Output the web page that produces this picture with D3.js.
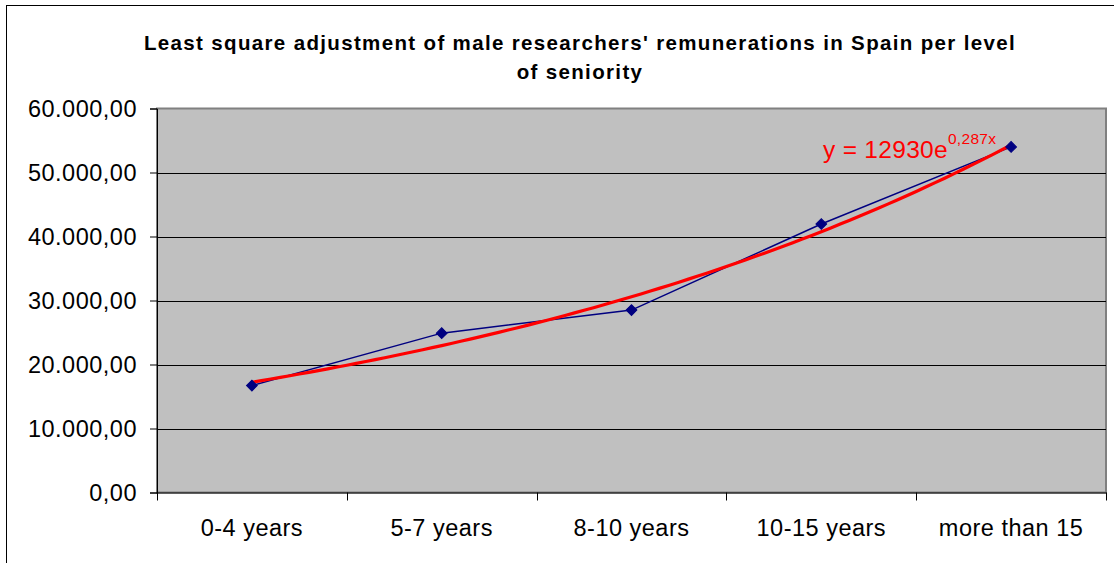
<!DOCTYPE html>
<html>
<head>
<meta charset="utf-8">
<script src="https://d3js.org/d3.v7.min.js"></script>
<style>
  html, body { margin: 0; padding: 0; background: #fff; }
  svg { display: block; font-family: "Liberation Sans", Arial, sans-serif; }
</style>
</head>
<body>
<svg id="chart" width="1114" height="563"></svg>
<script>
// Seniority bands and average male researcher remuneration (EUR)
const categories = ["0-4 years", "5-7 years", "8-10 years", "10-15 years", "more than 15"];
const remunerations = [16700, 24900, 28500, 41950, 54000];
const yTicks = [0, 10000, 20000, 30000, 40000, 50000, 60000];

// Exponential least-squares fit: y = a * e^(b*x), x = 1..5
const fitA = 12930;
const fitB = 0.287;

const titleLines = [
  "Least square adjustment of male researchers' remunerations in Spain per level",
  "of seniority"
];

const svg = d3.select("#chart");
const W = 1114, H = 563;
const plot = { left: 157, right: 1106, top: 108.5, bottom: 492.5 };
const labelFont = 23.5;

// outer chart frame
svg.append("rect")
  .attr("x", 6.5).attr("y", 5.5)
  .attr("width", W + 10).attr("height", H + 10)
  .attr("fill", "#fff").attr("stroke", "#000").attr("stroke-width", 1);

// title
svg.append("text")
  .attr("x", 580).attr("y", 50)
  .attr("text-anchor", "middle")
  .attr("font-size", 20.5).attr("font-weight", "bold").attr("fill", "#000")
  .attr("letter-spacing", 1.35)
  .selectAll("tspan").data(titleLines).join("tspan")
  .attr("x", 580).attr("dy", (d, i) => i === 0 ? 0 : 29)
  .text(d => d);

const x = d3.scaleBand().domain(categories).range([plot.left, plot.right]);
const y = d3.scaleLinear().domain([0, 60000]).range([plot.bottom, plot.top]);

// plot area
svg.append("rect")
  .attr("x", plot.left).attr("y", plot.top)
  .attr("width", plot.right - plot.left).attr("height", plot.bottom - plot.top)
  .attr("fill", "#c0c0c0").attr("stroke", "#808080").attr("stroke-width", 2);

// horizontal gridlines
svg.append("g").selectAll("line").data(yTicks.slice(1, -1)).join("line")
  .attr("x1", plot.left).attr("x2", plot.right)
  .attr("y1", d => Math.round(y(d)) + 0.5).attr("y2", d => Math.round(y(d)) + 0.5)
  .attr("stroke", "#000").attr("stroke-width", 1);

const fmt = v => {
  const s = d3.format(",.2f")(v);
  return s.replace(/,/g, "#").replace(/\./g, ",").replace(/#/g, ".");
};

// y axis
const yAxis = svg.append("g")
  .attr("transform", `translate(${plot.left},0)`)
  .call(d3.axisLeft(y).tickValues(yTicks).tickSize(7).tickPadding(13).tickFormat(fmt));
yAxis.select(".domain").attr("stroke", "#000");
yAxis.selectAll(".tick line").attr("stroke", "#000");
yAxis.selectAll(".tick text")
  .attr("font-size", labelFont).attr("fill", "#000").attr("letter-spacing", 0.5)
  .attr("font-family", "Liberation Sans, Arial, sans-serif");

// x axis with ticks on band boundaries
const xAxis = svg.append("g")
  .attr("transform", `translate(0,${plot.bottom})`)
  .call(d3.axisBottom(x).tickSize(0).tickPadding(27));
xAxis.select(".domain").attr("stroke", "#000");
xAxis.selectAll(".tick text")
  .attr("font-size", labelFont).attr("fill", "#000").attr("letter-spacing", 0.5)
  .attr("font-family", "Liberation Sans, Arial, sans-serif");
const bounds = categories.map(c => x(c)).concat([plot.right]);
xAxis.append("g").selectAll("line").data(bounds).join("line")
  .attr("x1", d => Math.round(d) + 0.5).attr("x2", d => Math.round(d) + 0.5)
  .attr("y1", 0).attr("y2", 8)
  .attr("stroke", "#000");

const cx = c => x(c) + x.bandwidth() / 2;

// data line
svg.append("path")
  .datum(remunerations)
  .attr("fill", "none").attr("stroke", "#000080").attr("stroke-width", 1.5)
  .attr("d", d3.line().x((d, i) => cx(categories[i])).y(d => y(d)));

// exponential trend line, sampled along x = 1..5
const xIdx = d3.scaleLinear().domain([1, categories.length])
  .range([cx(categories[0]), cx(categories[categories.length - 1])]);
const trendPts = d3.range(1, 5.0001, 0.05).map(t => [t, fitA * Math.exp(fitB * t)]);
svg.append("path")
  .datum(trendPts)
  .attr("fill", "none").attr("stroke", "#ff0000").attr("stroke-width", 3.2)
  .attr("stroke-linejoin", "round")
  .attr("d", d3.line().x(d => xIdx(d[0])).y(d => y(d[1])));

// diamond markers
svg.append("g").selectAll("path").data(remunerations).join("path")
  .attr("transform", (d, i) => `translate(${cx(categories[i])},${y(d)}) rotate(45)`)
  .attr("d", d3.symbol().type(d3.symbolSquare).size(58))
  .attr("fill", "#000080").attr("stroke", "#000080").attr("stroke-width", 1);

// trend equation label
const eq = svg.append("text")
  .attr("x", 823).attr("y", 158)
  .attr("fill", "#ff0000").attr("font-size", 24.5).attr("letter-spacing", 0.3);
eq.append("tspan").text(`y = ${fitA}e`);
eq.append("tspan").attr("font-size", 15.5).attr("dy", -14)
  .text(`${String(fitB).replace(".", ",")}x`);
</script>
</body>
</html>
